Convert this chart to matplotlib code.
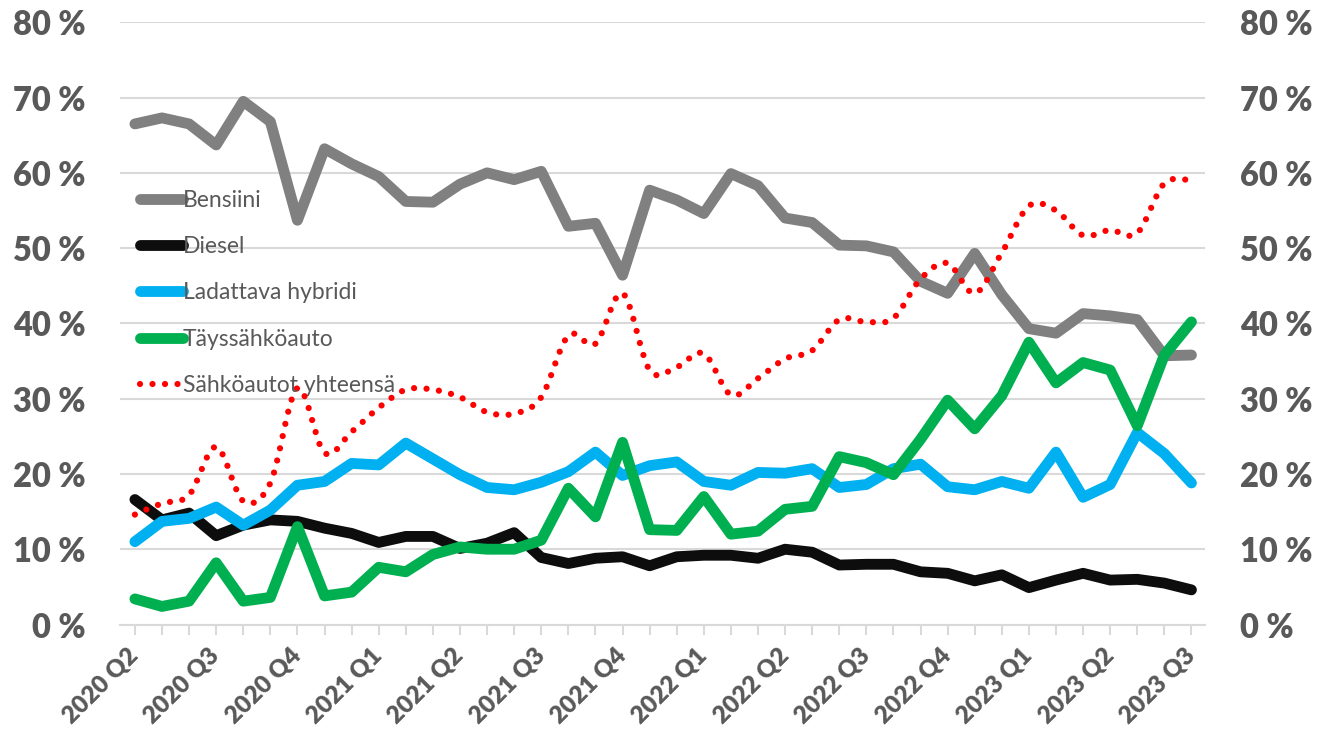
import matplotlib
matplotlib.use("Agg")
import matplotlib.pyplot as plt
from matplotlib.path import Path
from matplotlib.patches import PathPatch
from matplotlib.lines import Line2D
import numpy as np

plt.rcParams['font.family'] = ['Lato', 'DejaVu Sans']

quarter_labels = ["2020 Q2", "2020 Q3", "2020 Q4", "2021 Q1", "2021 Q2", "2021 Q3",
                  "2021 Q4", "2022 Q1", "2022 Q2", "2022 Q3", "2022 Q4", "2023 Q1",
                  "2023 Q2", "2023 Q3"]

bensiini = [66.5, 67.3, 66.5, 63.7, 69.5, 66.8, 53.7, 63.2, 61.2, 59.5, 56.2, 56.1,
            58.5, 60.0, 59.1, 60.2, 52.9, 53.3, 46.4, 57.7, 56.4, 54.6, 59.9, 58.3,
            54.0, 53.4, 50.4, 50.3, 49.5, 45.6, 44.0, 49.3, 43.8, 39.3, 38.7, 41.3,
            41.0, 40.5, 35.7, 35.8]
diesel = [16.6, 13.9, 14.8, 11.8, 13.2, 13.9, 13.7, 12.8, 12.1, 10.9, 11.7, 11.7,
          10.1, 10.8, 12.2, 8.9, 8.1, 8.8, 9.0, 7.8, 9.0, 9.2, 9.2, 8.8,
          10.0, 9.6, 7.9, 8.0, 8.0, 7.0, 6.8, 5.8, 6.6, 4.9, 5.9, 6.8,
          5.9, 6.0, 5.5, 4.6]
ladattava = [11.0, 13.7, 14.1, 15.6, 13.2, 15.2, 18.5, 19.0, 21.4, 21.2, 24.1, 22.0,
             19.9, 18.2, 17.9, 18.9, 20.3, 22.9, 19.8, 21.1, 21.6, 19.0, 18.5, 20.2,
             20.1, 20.7, 18.2, 18.6, 20.7, 21.3, 18.3, 17.9, 19.0, 18.1, 22.9, 16.9,
             18.6, 25.5, 22.7, 18.8]
tayssahko = [3.4, 2.4, 3.1, 8.2, 3.1, 3.6, 13.0, 3.8, 4.3, 7.6, 7.0, 9.3,
             10.3, 10.0, 10.0, 11.2, 18.1, 14.3, 24.2, 12.6, 12.5, 17.0, 12.0, 12.4,
             15.3, 15.7, 22.3, 21.5, 19.9, 24.6, 29.8, 26.0, 30.4, 37.5, 32.1, 34.8,
             33.8, 26.4, 35.8, 40.2]
sahkoautot = [14.6, 16.1, 17.2, 23.6, 16.4, 18.8, 31.4, 22.8, 25.6, 28.8, 31.2, 31.2,
              30.2, 28.2, 28.0, 30.2, 38.4, 37.3, 44.0, 33.8, 34.2, 36.0, 30.5, 32.7,
              35.3, 36.4, 40.5, 40.2, 40.7, 45.9, 48.0, 44.0, 49.4, 55.6, 55.0, 51.7,
              52.4, 52.0, 58.6, 59.0]

series_names = ["Bensiini", "Diesel", "Ladattava hybridi", "Täyssähköauto", "Sähköautot yhteensä"]
colors = ["#808080", "#0d0d0d", "#00b0f0", "#00b050", "#ff0000"]

y_ticks = [0, 10, 20, 30, 40, 50, 60, 70, 80]

n = len(bensiini)
x = np.arange(n)

fig = plt.figure(figsize=(13.17, 7.34), dpi=100)
ax = fig.add_axes([120/1317, 109.5/734, 1085/1317, 602.2/734])

lw = 7.8
handles = []
for vals, name, col in zip([bensiini, diesel, ladattava, tayssahko], series_names[:4], colors[:4]):
    ln, = ax.plot(x, vals, color=col, lw=lw, solid_capstyle='round',
                  solid_joinstyle='round', label=name, zorder=3)
    handles.append(ln)

# smoothed dotted line (Excel-style smoothed Bezier through the points)
pts = np.column_stack([x, sahkoautot]).astype(float)
verts = [tuple(pts[0])]
codes = [Path.MOVETO]
for i in range(n - 1):
    p0 = pts[i - 1] if i > 0 else pts[i]
    p1 = pts[i]
    p2 = pts[i + 1]
    p3 = pts[i + 2] if i + 2 < n else pts[i + 1]
    c1 = p1 + (p2 - p0) / 6.0
    c2 = p2 - (p3 - p1) / 6.0
    verts += [tuple(c1), tuple(c2), tuple(p2)]
    codes += [Path.CURVE4] * 3
patch = PathPatch(Path(verts, codes), fill=False, edgecolor=colors[4], lw=4.5,
                  linestyle=(0, (0.001, 2.0)), capstyle='round', zorder=4)
ax.add_patch(patch)
handles.append(Line2D([], [], color=colors[4], lw=4.5, linestyle=(0, (0.001, 2.0)),
                      dash_capstyle='round', label=series_names[4]))

ax.set_xlim(-0.55, n - 0.5)
ax.set_ylim(0, 80)

for s in ['top', 'left', 'right']:
    ax.spines[s].set_visible(False)
ax.spines['bottom'].set_color('#d9d9d9')
ax.spines['bottom'].set_linewidth(1.5)
ax.spines['bottom'].set_zorder(2)

ax.set_yticks(y_ticks)
ax.set_yticklabels([f"{v} %" for v in y_ticks])
ax.yaxis.grid(True, color='#d9d9d9', lw=1.5, zorder=0)
ax.set_axisbelow(True)
ax.tick_params(axis='y', length=0, pad=25, labelsize=23.5, labelcolor='#595959')
for t in ax.get_yticklabels():
    t.set_fontweight('heavy')

ax.set_xticks(x[::3])
ax.set_xticklabels(quarter_labels, rotation=45, ha='right', va='center',
                   rotation_mode='anchor', fontsize=17.5, fontweight='heavy', color='#595959')
ax.set_xticks(x, minor=True)
ax.tick_params(axis='x', which='both', direction='out', length=7, width=1.5,
               color='#d9d9d9', pad=13)

ax2 = ax.twinx()
ax2.set_ylim(0, 80)
ax2.set_yticks(y_ticks)
ax2.set_yticklabels([f"{v} %" for v in y_ticks])
for s in ax2.spines.values():
    s.set_visible(False)
ax2.tick_params(axis='y', length=0, pad=25, labelsize=23.5, labelcolor='#595959')
for t in ax2.get_yticklabels():
    t.set_fontweight('heavy')

leg = ax.legend(handles=handles, loc='upper left', bbox_to_anchor=(0.018, 0.7215),
                frameon=False, fontsize=16.5, handlelength=1.88, handletextpad=0.0,
                labelspacing=1.1, borderpad=0, borderaxespad=0)
for t in leg.get_texts():
    t.set_color('#595959')
leg.set_zorder(5)

fig.savefig("out.png", dpi=100)
